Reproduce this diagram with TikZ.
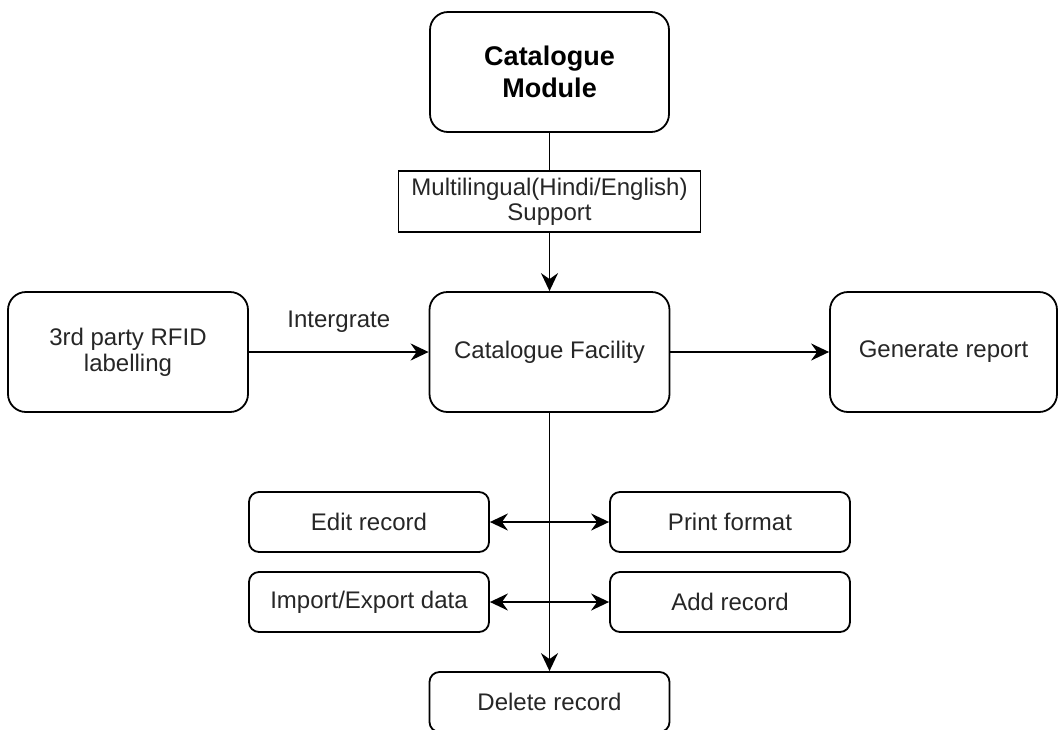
\documentclass[tikz,border=0pt]{standalone}
\usepackage{fontspec}
\setmainfont{Liberation Sans}
\usetikzlibrary{arrows.meta}
\tikzset{
    module/.style = {rectangle, rounded corners=9pt, minimum width=119.5pt, minimum height=60pt, align=center, draw=black, line width=0.9pt, font=\bfseries\fontsize{13.5}{16}\selectfont},
    facility/.style = {rectangle, rounded corners=9pt, minimum width=120pt, minimum height=60pt, align=center, draw=black, line width=0.9pt, text=black!85, font=\fontsize{12}{13}\selectfont},
    support/.style = {rectangle, minimum width=151pt, minimum height=30.5pt, inner sep=1pt, align=center, draw=black, line width=0.9pt, text=black!85, font=\fontsize{12}{12.5}\selectfont},
    record/.style = {rectangle, rounded corners=5pt, minimum width=120pt, minimum height=30pt, align=center, draw=black, line width=0.9pt, text=black!85, font=\fontsize{12}{13}\selectfont},
    arrow/.style = {line width=0.9pt, -{Stealth[length=9pt, width=8.5pt, inset=3pt]}},
    twoway/.style = {line width=0.9pt, {Stealth[length=9pt, width=8.5pt, inset=3pt]}-{Stealth[length=9pt, width=8.5pt, inset=3pt]}}
}
\begin{document}
\begin{tikzpicture}[x=0.5pt, y=-0.5pt]
\useasboundingbox (0,0) rectangle (1059,729);

\node (module) [module] at (549.5,72) {Catalogue\\Module};
\node (multi) [support, node distance=64.75pt, below of=module] {Multilingual(Hindi/English)\\Support};
\node (facility) [facility, node distance=75.25pt, below of=multi] {Catalogue Facility};
\node (rfid) [facility, node distance=210.75pt, left of=facility] {3rd party RFID\\labelling};
\node (report) [facility, minimum width=113.5pt, node distance=197pt, right of=facility] {Generate report};

\node (edit) [record, node distance=85pt, below of=facility, xshift=-90.25pt] {Edit record};
\node (print) [record, node distance=85pt, below of=facility, xshift=90.25pt] {Print format};
\node (import) [record, node distance=125pt, below of=facility, xshift=-90.25pt] {Import/Export data};
\node (add) [record, node distance=125pt, below of=facility, xshift=90.25pt] {Add record};
\node (delete) [record, node distance=175pt, below of=facility] {Delete record};

\draw [line width=0.9pt] (module) -- (multi);
\draw [arrow] (multi) -- (facility);
\draw [arrow] (rfid) -- node [above=6pt, text=black!85, font=\fontsize{12}{13}\selectfont] {Intergrate} (facility);
\draw [arrow] (facility) -- (report);
\draw [arrow] (facility) -- (delete);
\draw [twoway] (edit) -- (print);
\draw [twoway] (import) -- (add);
\end{tikzpicture}
\end{document}
